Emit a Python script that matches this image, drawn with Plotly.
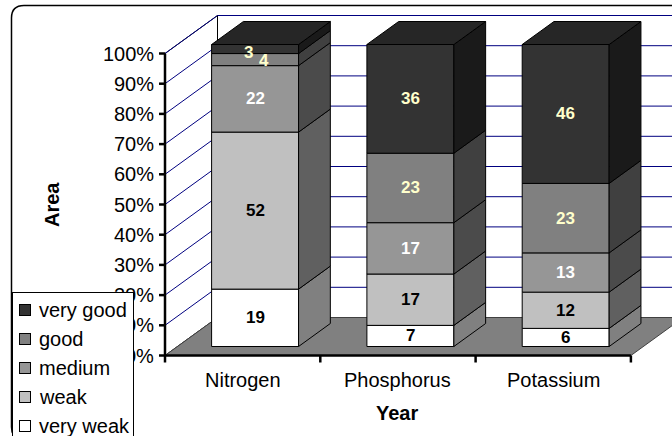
import plotly.graph_objects as go

# ---- data -------------------------------------------------------------
categories = ["Nitrogen", "Phosphorus", "Potassium"]
levels = ["very weak", "weak", "medium", "good", "very good"]
very_weak = [19, 7, 6]
weak = [52, 17, 12]
medium = [22, 17, 13]
good = [4, 23, 23]
very_good = [3, 36, 46]
y_ticks = [0, 10, 20, 30, 40, 50, 60, 70, 80, 90, 100]
y_tick_labels = [f"{t}%" for t in y_ticks]
x_title = "Year"
y_title = "Area"

series = dict(zip(levels, [very_weak, weak, medium, good, very_good]))

# ---- styling ----------------------------------------------------------
FRONT = {"very weak": "#FFFFFF", "weak": "#C0C0C0", "medium": "#969696",
         "good": "#808080", "very good": "#333333"}
SIDE = {"very weak": "#808080", "weak": "#606060", "medium": "#4B4B4B",
        "good": "#404040", "very good": "#1A1A1A"}
TOP = {"very weak": "#C0C0C0", "weak": "#909090", "medium": "#707070",
       "good": "#606060", "very good": "#262626"}
LABEL = {"very weak": "black", "weak": "black", "medium": "white",
         "good": "#FFFFCC", "very good": "#FFFFCC"}
FONT = "Arial, Liberation Sans, sans-serif"
GRID = "#000080"

W, H = 672, 436
X_PX = 155.3          # pixels per category slot
Y_PX = 3.02           # pixels per percent
X0_PX, Y0_PX = 165.0, 355.5   # pixel position of the chart origin
DEPTH = (52.5 / X_PX, 38.0 / Y_PX)   # oblique offset of the full depth
Z_FRONT, Z_BACK = 9 / 38, 32 / 38    # depth span of the bars
HALF = 0.28           # half bar width in category units


def proj(x, y, z):
    return x + z * DEPTH[0], y + z * DEPTH[1]


def paper(px, py):
    return px / W, 1 - py / H


fig = go.Figure()


def polygon(pts, fill, line="black", lw=1.0):
    xy = [proj(*p) for p in pts]
    xy.append(xy[0])
    fig.add_trace(go.Scatter(
        x=[p[0] for p in xy], y=[p[1] for p in xy], mode="lines",
        fill="toself", fillcolor=fill, line=dict(color=line, width=lw),
        hoverinfo="skip", showlegend=False))


def lines(segs, color, lw):
    xs, ys = [], []
    for a, b in segs:
        for p in (a, b):
            xs.append(p[0])
            ys.append(p[1])
        xs.append(None)
        ys.append(None)
    fig.add_trace(go.Scatter(x=xs, y=ys, mode="lines",
                             line=dict(color=color, width=lw),
                             hoverinfo="skip", showlegend=False))


n = len(categories)
top = y_ticks[-1]

# walls
polygon([(0, 0, 0), (0, 0, 1), (0, top, 1), (0, top, 0)], "white")
polygon([(0, 0, 1), (n, 0, 1), (n, top, 1), (0, top, 1)], "white")

# gridlines on the side wall and back wall
grid = []
for v in y_ticks[1:]:
    grid.append((proj(0, v, 0), proj(0, v, 1)))
    grid.append((proj(0, v, 1), proj(n, v, 1)))
lines(grid, GRID, 1)

# floor
polygon([(0, 0, 0), (n, 0, 0), (n, 0, 1), (0, 0, 1)], "#808080", "#404040", 1)

# stacked 3-D bars
for i, cat in enumerate(categories):
    c = i + 0.5
    base = 0
    for lev in levels:
        v = series[lev][i]
        a, b = base, base + v
        polygon([(c - HALF, a, Z_FRONT), (c + HALF, a, Z_FRONT),
                 (c + HALF, b, Z_FRONT), (c - HALF, b, Z_FRONT)], FRONT[lev])
        polygon([(c + HALF, a, Z_FRONT), (c + HALF, a, Z_BACK),
                 (c + HALF, b, Z_BACK), (c + HALF, b, Z_FRONT)], SIDE[lev])
        base = b
    polygon([(c - HALF, base, Z_FRONT), (c + HALF, base, Z_FRONT),
             (c + HALF, base, Z_BACK), (c - HALF, base, Z_BACK)], TOP[levels[-1]])

# axis lines and tick marks
tick_x = 6 / X_PX
tick_y = 7 / Y_PX
axes = [((0, 0), (0, top)), ((0, 0), (n, 0))]
axes += [((-tick_x, v), (0, v)) for v in y_ticks]
axes += [((k, 0), (k, -tick_y)) for k in range(n + 1)]
lines(axes, "black", 2.5)

annotations = []

# value labels on the front faces; thin segments get nudged apart
nudge = {(0, "very good"): (-7, -3), (0, "good"): (9, -1)}
for i, cat in enumerate(categories):
    base = 0
    for lev in levels:
        v = series[lev][i]
        lx, ly = proj(i + 0.5, base + v / 2, Z_FRONT)
        dx, dy = nudge.get((i, lev), (0, 0))
        annotations.append(dict(
            x=lx, y=ly, xref="x", yref="y", text=str(v), showarrow=False,
            xanchor="center", yanchor="middle", xshift=dx, yshift=dy,
            font=dict(family=FONT, size=17, color=LABEL[lev], weight="bold")))
        base += v

# value axis tick labels
for v, t in zip(y_ticks, y_tick_labels):
    annotations.append(dict(x=0, y=v, xref="x", yref="y", text=t,
                            showarrow=False, xanchor="right", yanchor="middle",
                            xshift=-9,
                            font=dict(family=FONT, size=20, color="black")))

# category labels
for i, cat in enumerate(categories):
    annotations.append(dict(x=i + 0.5, y=0, xref="x", yref="y", text=cat,
                            showarrow=False, xanchor="center", yanchor="middle",
                            yshift=-24,
                            font=dict(family=FONT, size=20, color="black")))

# axis titles
tx, ty = paper(397, 413)
annotations.append(dict(x=tx, y=ty, xref="paper", yref="paper", text=x_title,
                        showarrow=False, xanchor="center", yanchor="middle",
                        font=dict(family=FONT, size=20, color="black", weight="bold")))
tx, ty = paper(52, 205)
annotations.append(dict(x=tx, y=ty, xref="paper", yref="paper", text=y_title,
                        showarrow=False, textangle=-90,
                        xanchor="center", yanchor="middle",
                        font=dict(family=FONT, size=20, color="black", weight="bold")))

# legend box with swatches
lx, ly = paper(12, 292)
annotations.append(dict(x=lx, y=ly, xref="paper", yref="paper", text=" ",
                        showarrow=False, xanchor="left", yanchor="top",
                        width=120, height=160, bgcolor="white",
                        bordercolor="black", borderwidth=1, borderpad=0,
                        font=dict(size=1)))
for k, lev in enumerate(reversed(levels)):
    cy = 310 + k * 29
    sx, sy = paper(25, cy)
    annotations.append(dict(x=sx, y=sy, xref="paper", yref="paper", text=" ",
                            showarrow=False, xanchor="center", yanchor="middle",
                            width=10, height=10,
                            bgcolor=FRONT[lev], bordercolor="black",
                            borderwidth=1, borderpad=0, font=dict(size=1)))
    tx, ty = paper(37, cy)
    annotations.append(dict(x=tx, y=ty, xref="paper", yref="paper", text=lev,
                            showarrow=False, xanchor="left", yanchor="middle",
                            font=dict(family=FONT, size=20, color="black")))

# outer chart frame with rounded corners
def fr(px, py):
    x, y = paper(px, py)
    return f"{x:.5f},{y:.5f}"


frame = (f"M {fr(11.5, 18)} Q {fr(11.5, 5.5)} {fr(24, 5.5)} L {fr(700, 5.5)} "
         f"L {fr(700, 440)} L {fr(24, 440)} Q {fr(11.5, 440)} {fr(11.5, 427)} Z")

fig.update_layout(
    width=W, height=H, margin=dict(l=0, r=0, t=0, b=0),
    paper_bgcolor="white", plot_bgcolor="white",
    xaxis=dict(range=[-X0_PX / X_PX, (W - X0_PX) / X_PX], visible=False,
               fixedrange=True),
    yaxis=dict(range=[-(H - Y0_PX) / Y_PX, Y0_PX / Y_PX], visible=False,
               fixedrange=True),
    shapes=[dict(type="path", path=frame, xref="paper", yref="paper",
                 line=dict(color="black", width=1.5), layer="below")],
    annotations=annotations,
    showlegend=False,
)

fig.write_html("out.html")
